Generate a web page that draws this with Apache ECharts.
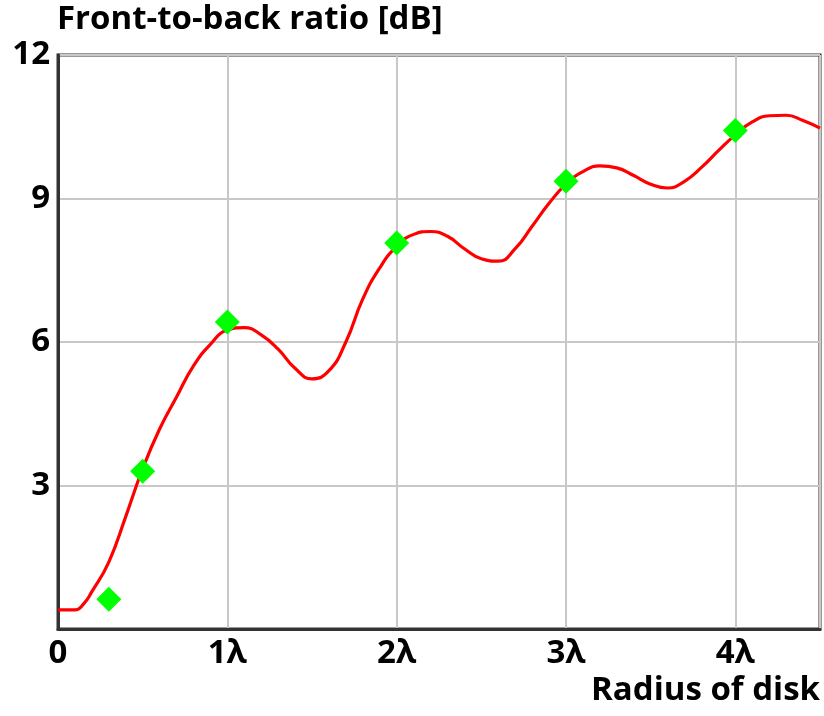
<!DOCTYPE html>
<html>
<head>
<meta charset="utf-8">
<script src="https://cdn.jsdelivr.net/npm/echarts@6/dist/echarts.min.js"></script>
<style>
  html, body { margin: 0; padding: 0; background: #fff; }
  #chart { width: 824px; height: 716px; }
</style>
</head>
<body>
<div id="chart"></div>
<script>
// Disk radius in wavelengths (x) and front-to-back ratio in dB (y)
const curveRadius = [0, 0.1, 0.15, 0.2, 0.3, 0.4, 0.5, 0.6, 0.7, 0.8, 0.9,
  1.0, 1.1, 1.2, 1.3, 1.4, 1.5, 1.6, 1.7, 1.8, 1.9,
  2.0, 2.1, 2.2, 2.3, 2.4, 2.5, 2.6, 2.7, 2.8, 2.9,
  3.0, 3.1, 3.2, 3.3, 3.4, 3.5, 3.6, 3.7, 3.8, 3.9,
  4.0, 4.1, 4.2, 4.3, 4.4, 4.5];
const curveRatio = [0.40, 0.40, 0.52, 0.78, 1.40, 2.35, 3.35, 4.18, 4.85, 5.50, 5.95,
  6.25, 6.30, 6.15, 5.85, 5.45, 5.23, 5.40, 6.00, 6.90, 7.55,
  8.00, 8.25, 8.31, 8.21, 7.95, 7.74, 7.69, 7.95, 8.42, 8.90,
  9.30, 9.56, 9.68, 9.64, 9.48, 9.30, 9.22, 9.36, 9.65, 10.00,
  10.33, 10.60, 10.73, 10.74, 10.63, 10.47];

// Measured points
const pointRadius = [0.3, 0.5, 1.0, 2.0, 3.0, 4.0];
const pointRatio = [0.62, 3.3, 6.42, 8.07, 9.36, 10.42];

const yTicks = [0, 3, 6, 9, 12];
const yAxisTitle = 'Front-to-back ratio [dB]';
const xAxisTitle = 'Radius of disk';

const FONT = '"Open Sans", sans-serif';
const chart = echarts.init(document.getElementById('chart'));

chart.setOption({
  animation: false,
  backgroundColor: '#ffffff',
  grid: {
    left: 58, right: 4, top: 55, bottom: 87,
    show: true, borderColor: '#333333', borderWidth: 3, containLabel: false
  },
  xAxis: {
    type: 'value', min: 0, max: 4.5, interval: 1,
    axisLine: { show: true, lineStyle: { color: '#333333', width: 3 } },
    axisTick: { show: false },
    splitLine: { show: true, lineStyle: { color: '#c8c8c8', width: 2 } },
    axisLabel: {
      margin: 8,
      color: '#000', fontFamily: FONT, fontWeight: 'bold', fontSize: 33,
      formatter: v => (Number.isInteger(v) ? (v === 0 ? '0' : v + '\u03bb') : '')
    }
  },
  yAxis: {
    type: 'value', min: yTicks[0], max: yTicks[yTicks.length - 1], interval: 3,
    axisLine: { show: true, lineStyle: { color: '#333333', width: 3 } },
    axisTick: { show: false },
    splitLine: { show: true, lineStyle: { color: '#c8c8c8', width: 2 } },
    axisLabel: {
      margin: 8,
      color: '#000', fontFamily: FONT, fontWeight: 'bold', fontSize: 33,
      formatter: v => (v === 0 ? '' : String(v))
    }
  },
  graphic: [
    {
      type: 'text', left: 57, top: 3,
      style: { text: yAxisTitle, fill: '#000', font: 'bold 33px ' + FONT }
    },
    {
      type: 'text', right: 4, top: 674,
      style: { text: xAxisTitle, fill: '#000', font: 'bold 33px ' + FONT }
    }
  ],
  series: [
    {
      type: 'line',
      data: curveRadius.map((x, i) => [x, curveRatio[i]]),
      smooth: 0.5,
      showSymbol: false,
      lineStyle: { color: '#ff0000', width: 3.2 },
      z: 2
    },
    {
      type: 'scatter',
      data: pointRadius.map((x, i) => [x, pointRatio[i]]),
      symbol: 'diamond',
      symbolSize: [25, 25],
      itemStyle: { color: '#00ff00', opacity: 1 },
      z: 3
    }
  ]
});
</script>
</body>
</html>
